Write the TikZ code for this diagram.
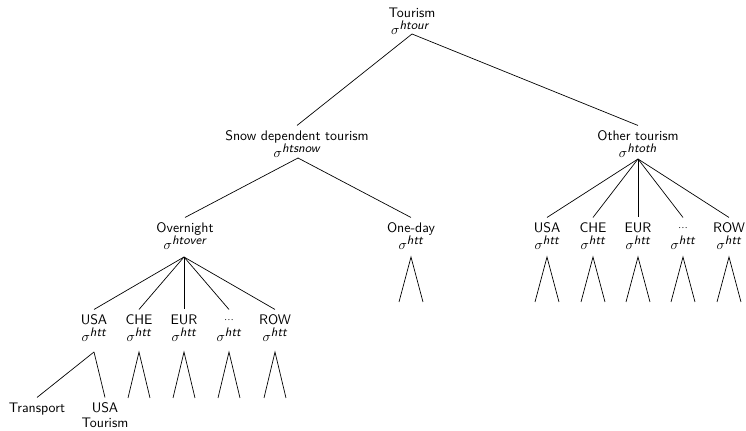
\documentclass[tikz,border=0pt]{standalone}
\usepackage{tikz}
\newcommand{\mysig}[1]{$\sigma^{\mbox{\small\sffamily\itshape #1}}$}
\newcommand{\mydots}{\raisebox{1.5pt}{$\scriptstyle\cdots$}}
\begin{document}
\begin{tikzpicture}[x=0.7215pt,y=-0.7215pt,
  lab/.style={font=\sffamily, text height=7pt, text depth=2pt, inner xsep=1pt, inner ysep=4pt, anchor=base},
  sig/.style={inner sep=0pt, anchor=base},
  plain/.style={font=\sffamily, inner sep=0pt, anchor=base},
  conn/.style={line width=0.5pt}]
\useasboundingbox (0,0) rectangle (746,431);
% level 0
\node[lab] (tour) at (412,18) {Tourism};
\node[sig] (tours) at (410,35) {\mysig{htour}};
\coordinate (tourA) at (412,34);
% level 1
\node[lab] (snow) at (297,141) {Snow dependent tourism};
\node[sig] (snows) at (297,158) {\mysig{htsnow}};
\coordinate (snowA) at (298,158);
\node[lab] (oth) at (638,141) {Other tourism};
\node[sig] (oths) at (638,158) {\mysig{htoth}};
\coordinate (othA) at (638,159);
% level 2
\node[lab] (over) at (185,233) {Overnight};
\node[sig] (overs) at (185,250) {\mysig{htover}};
\coordinate (overA) at (184,257);
\node[lab] (one) at (411,233) {One-day};
\node[sig] (ones) at (411,250) {\mysig{htt}};
\coordinate (oneA) at (411,257);
\coordinate (oneL) at (399,302);
\coordinate (oneR) at (423,302);
\draw[conn] (tourA) -- (snow.north);
\draw[conn] (tourA) -- (oth.north);
\draw[conn] (snowA) -- (over.north);
\draw[conn] (snowA) -- (one.north);
\draw[conn] (oneL) -- (oneA) -- (oneR);
% right children
\foreach \i/\x/\t in {1/547/USA, 2/593/CHE, 3/638/EUR, 4/683/{\mydots}, 5/729/ROW}{
  \node[lab] (r\i) at (\x,233) {\t};
  \node[sig] (r\i s) at (\x,250) {\mysig{htt}};
  \coordinate (r\i A) at (\x,257);
  \coordinate (r\i L) at (\x-12,302);
  \coordinate (r\i R) at (\x+12,302);
  \draw[conn] (othA) -- (r\i.north);
  \draw[conn] (r\i L) -- (r\i A) -- (r\i R);
}
% overnight children
\foreach \i/\x/\t in {1/94/USA, 2/139/CHE, 3/184/EUR, 4/229/{\mydots}, 5/275/ROW}{
  \node[lab] (o\i) at (\x,325) {\t};
  \node[sig] (o\i s) at (\x,342) {\mysig{htt}};
  \coordinate (o\i A) at (\x,352);
  \draw[conn] (overA) -- (o\i.north);
}
\foreach \i/\x in {2/139, 3/184, 4/229, 5/275}{
  \coordinate (o\i L) at (\x-11,398);
  \coordinate (o\i R) at (\x+11,398);
  \draw[conn] (o\i L) -- (o\i A) -- (o\i R);
}
% leaves of USA
\node[lab] (trans) at (37,413) {Transport};
\node[lab] (usat) at (105,413) {USA};
\node[plain] (usat2) at (105,428) {Tourism};
\draw[conn] (o1A) -- (trans.north);
\draw[conn] (o1A) -- (usat.north);
\end{tikzpicture}
\end{document}
